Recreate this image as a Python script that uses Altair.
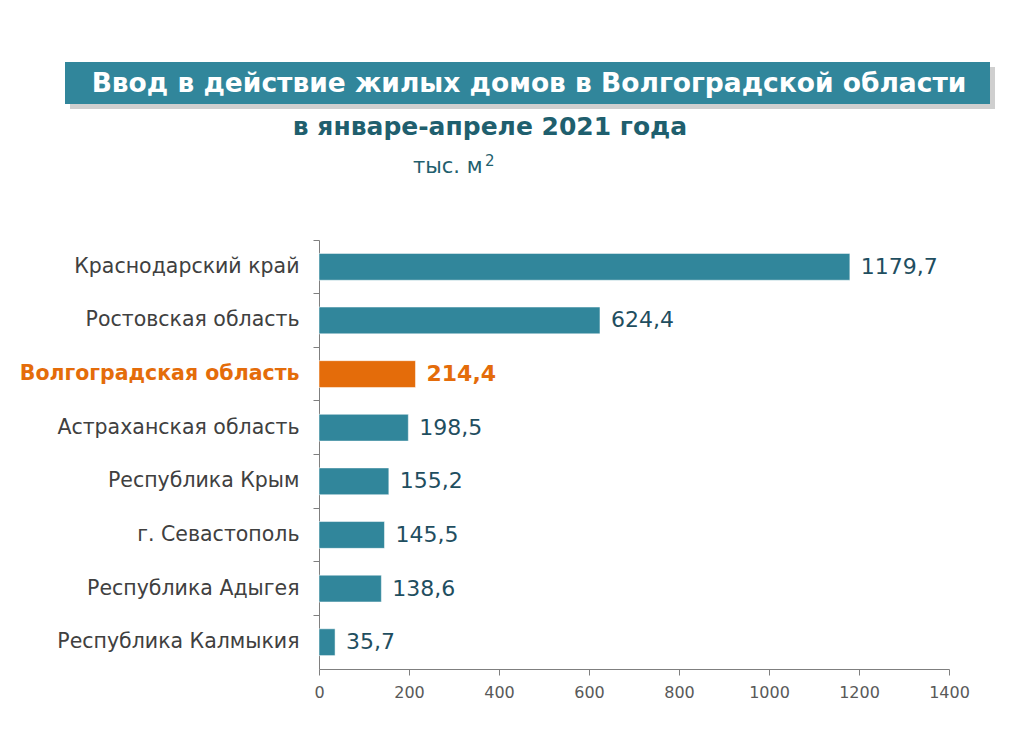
import altair as alt
import pandas as pd

regions = ["Краснодарский край", "Ростовская область", "Волгоградская область",
           "Астраханская область", "Республика Крым", "г. Севастополь",
           "Республика Адыгея", "Республика Калмыкия"]
values = [1179.7, 624.4, 214.4, 198.5, 155.2, 145.5, 138.6, 35.7]
highlight = "Волгоградская область"
x_ticks = [0, 200, 400, 600, 800, 1000, 1200, 1400]

title_text = "Ввод в действие жилых домов в Волгоградской области"
subtitle_text = "в январе-апреле 2021 года"
unit_text = "тыс. м"
unit_sup = "2"

TEAL = "#31869B"
ORANGE = "#E46C0A"
FONT = "DejaVu Sans"

df = pd.DataFrame({"region": regions, "value": values})
df["hl"] = df["region"] == highlight

W, H = 630, 429
LEFT, TOP = 319, 240

y_enc = alt.Y("region:N", sort=regions, title=None,
              scale=alt.Scale(paddingInner=0, paddingOuter=0),
              axis=alt.Axis(bandPosition=0, labelFont=FONT, labelFontSize=20.5,
                            labelLimit=0,
                            labelColor=alt.expr(f"datum.value == '{highlight}' ? '{ORANGE}' : '#404040'"),
                            labelFontWeight=alt.expr(f"datum.value == '{highlight}' ? 'bold' : 'normal'"),
                            labelPadding=14, tickSize=6, tickColor="#7f7f7f",
                            domainColor="#7f7f7f", grid=False))
x_enc = alt.X("value:Q", title=None,
              scale=alt.Scale(domain=[0, 1400], nice=False),
              axis=alt.Axis(values=x_ticks, format="d", labelFont=FONT, labelFontSize=16,
                            labelFlush=False,
                            labelColor="#595959", tickSize=6, tickColor="#7f7f7f",
                            domainColor="#7f7f7f", grid=False, labelPadding=9))

base = alt.Chart(df)

bars = base.mark_bar(height={"band": 0.5}, stroke="#ffffff", strokeWidth=0.5).encode(
    y=y_enc, x=x_enc,
    color=alt.condition("datum.hl", alt.value(ORANGE), alt.value(TEAL)),
)

lbl_base = base.transform_calculate(
    lbl="replace(format(datum.value, '.1f'), '.', ',')"
)
labels = lbl_base.transform_filter("!datum.hl").mark_text(
    align="left", baseline="middle", dx=11, font=FONT, fontSize=22, color="#1F4E5F"
).encode(y=alt.Y("region:N", sort=regions), x="value:Q", text="lbl:N")
labels_hl = lbl_base.transform_filter("datum.hl").mark_text(
    align="left", baseline="middle", dx=11, font=FONT, fontSize=22, color=ORANGE,
    fontWeight="bold"
).encode(y=alt.Y("region:N", sort=regions), x="value:Q", text="lbl:N")

deco = alt.Chart(pd.DataFrame({"t": [title_text]}))
shadow = deco.mark_rect(color="#a0a0a0", opacity=0.5).encode(
    x=alt.value(65 - LEFT + 5), x2=alt.value(990 - LEFT + 5),
    y=alt.value(62 - TOP + 5), y2=alt.value(104 - TOP + 5))
box = deco.mark_rect(color=TEAL).encode(
    x=alt.value(65 - LEFT), x2=alt.value(990 - LEFT),
    y=alt.value(62 - TOP), y2=alt.value(104 - TOP))
title = deco.mark_text(font=FONT, fontSize=26.5, fontWeight="bold", color="white",
                       align="center", baseline="middle").encode(
    x=alt.value(529 - LEFT), y=alt.value(84 - TOP), text="t:N")
sub = alt.Chart(pd.DataFrame({"t": [subtitle_text]})).mark_text(
    font=FONT, fontSize=25, fontWeight="bold", color="#1F5F6E",
    align="center", baseline="middle").encode(
    x=alt.value(490 - LEFT), y=alt.value(127 - TOP), text="t:N")
unit = alt.Chart(pd.DataFrame({"t": [unit_text]})).mark_text(
    font=FONT, fontSize=21, color="#1F5F6E",
    align="left", baseline="middle").encode(
    x=alt.value(413 - LEFT), y=alt.value(167 - TOP), text="t:N")
unit2 = alt.Chart(pd.DataFrame({"t": [unit_sup]})).mark_text(
    font=FONT, fontSize=15, color="#1F5F6E",
    align="left", baseline="middle").encode(
    x=alt.value(485 - LEFT), y=alt.value(161 - TOP), text="t:N")

chart = alt.layer(shadow, box, title, sub, unit, unit2, bars, labels, labels_hl).properties(
    width=W, height=H,
    background="white",
    autosize=alt.AutoSizeParams(type="none"),
    padding={"left": LEFT, "top": TOP, "right": 1014 - LEFT - W, "bottom": 737 - TOP - H},
).configure_view(stroke=None)

chart.save("out.html", embed_options={"renderer": "svg", "actions": False})
